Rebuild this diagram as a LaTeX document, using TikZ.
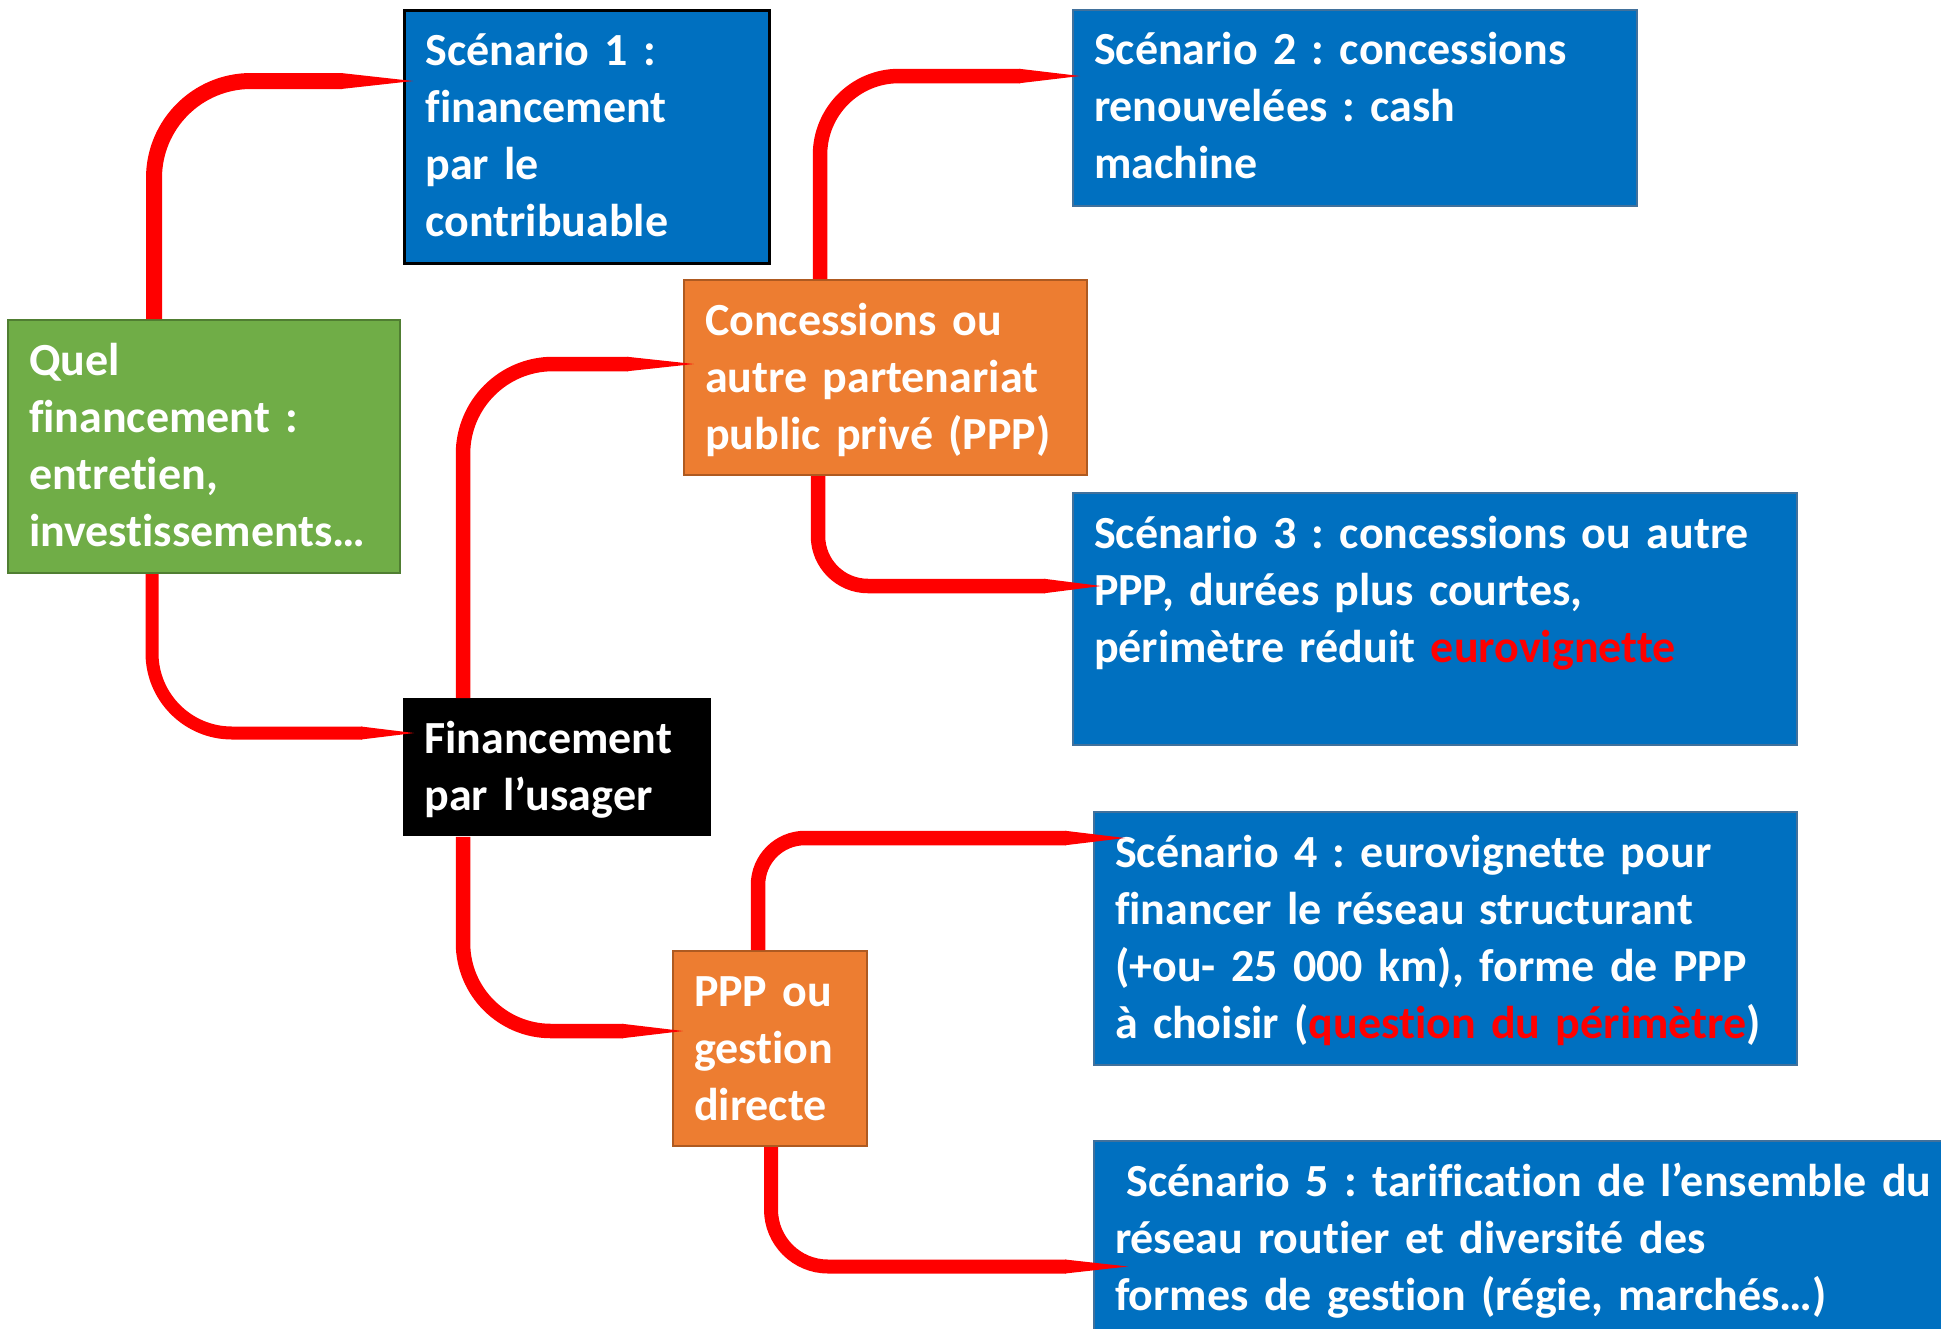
\documentclass[tikz,border=0pt]{standalone}
\usepackage{fontspec}
\setmainfont{Carlito}[Ligatures=NoCommon]
\usetikzlibrary{calc}
\hyphenpenalty=10000
\exhyphenpenalty=10000
\frenchspacing
\definecolor{sblue}{HTML}{0070C0}
\definecolor{sblueB}{HTML}{41719C}
\definecolor{qgreen}{HTML}{70AD47}
\definecolor{qgreenB}{HTML}{507E32}
\definecolor{corange}{HTML}{ED7D31}
\definecolor{corangeB}{HTML}{AE5A21}
\newcommand\redlink[5]{%
  \draw[red, line width=#4pt, rounded corners=#5pt] #1 |- ($(#2)+(-#3,0)$);
  \fill[red] ($(#2)+(-#3-1,-#4)$) -- (#2) -- ($(#2)+(-#3-1,#4)$) -- cycle;}
\newcommand\boxfont{\bfseries\fontsize{23}{28.5}\selectfont\frenchspacing\spaceskip=0.2em plus 0.05em minus 0.05em\relax}
\tikzset{
  box/.style={anchor=north west, inner xsep=10.5pt, inner ysep=0pt,
    text height=27.5pt, align=left, text=white, font=\boxfont},
  bluebox/.style={box, fill=sblue, draw=sblueB, line width=1pt},
  orangebox/.style={box, fill=corange, draw=corangeB, line width=1pt}
}
\begin{document}
\begin{tikzpicture}[x=0.5pt,y=-0.5pt]
\useasboundingbox (0,0) rectangle (1941,1328);

\node[box, fill=qgreen, draw=qgreenB, line width=1pt, text width=175pt, text depth=99pt] (q) at (7,319)
  {Quel\\financement :\\entretien,\\investissements…};
\node[box, fill=sblue, draw=black, line width=1.5pt, text width=161.5pt, text depth=99.25pt] (s1) at (403,8.5)
  {Scénario 1 :\\financement\\par le\\contribuable};
\node[orangebox, text width=180.5pt, text depth=70pt] (c) at (683,279)
  {Concessions ou\\autre partenariat\\public privé (PPP)};
\node[bluebox, text width=261pt, text depth=70.5pt] (s2) at (1072,8.5)
  {Scénario 2 : concessions\\renouvelées : cash\\machine};
\node[bluebox, text width=341pt, text depth=98.5pt] (s3) at (1072,492)
  {Scénario 3 : concessions ou autre\\PPP, durées plus courtes,\\périmètre réduit {\color{red}eurovignette}};
\node[box, fill=black, text width=133pt, text depth=41.5pt] (u) at (403,698)
  {Financement\\par l’usager};
\node[orangebox, text width=76pt, text depth=70pt] (p) at (672,950)
  {PPP ou\\gestion\\directe};
\node[bluebox, text width=330.5pt, text depth=99pt] (s4) at (1093,811)
  {Scénario 4 : eurovignette pour\\financer le réseau structurant\\(+ou- 25 000 km), forme de PPP\\à choisir ({\color{red}question du périmètre})};
\node[bluebox, text width=429pt, text depth=82.5pt] (s5) at (1093,1140)
  {\hspace*{0.25em}Scénario 5 : tarification de l’ensemble du\\réseau routier et diversité des\\formes de gestion (régie, marchés…)};

\coordinate (t1) at ($(s1.north west)+(10,72.5)$);
\coordinate (t2) at ($(u.north west)+(11,35)$);
\coordinate (t3) at ($(c.north west)+(11,85)$);
\coordinate (t4) at ($(s2.north west)+(8,67.5)$);
\coordinate (t5) at ($(s3.north west)+(29,94)$);
\coordinate (t6) at ($(p.north west)+(11,81)$);
\coordinate (t7) at ($(s4.north west)+(32,27)$);
\coordinate (t8) at ($(s5.north west)+(35,126.5)$);

\redlink{($(q.north west)+(147,0)$)}{t1}{71}{8}{48.5}
\redlink{($(q.south west)+(145,0)$)}{t2}{52}{6.5}{40}
\redlink{($(u.north west)+(60,0)$)}{t3}{66}{7.25}{45}
\redlink{($(c.north west)+(137,0)$)}{t4}{60}{7.25}{39.5}
\redlink{($(c.south west)+(135,0)$)}{t5}{56}{7.25}{25}
\redlink{($(u.south west)+(60,0)$)}{t6}{60}{7.25}{44}
\redlink{($(p.north west)+(86,0)$)}{t7}{59}{7.25}{23.5}
\redlink{($(p.south west)+(99,0)$)}{t8}{62}{7}{28.5}
\end{tikzpicture}
\end{document}
